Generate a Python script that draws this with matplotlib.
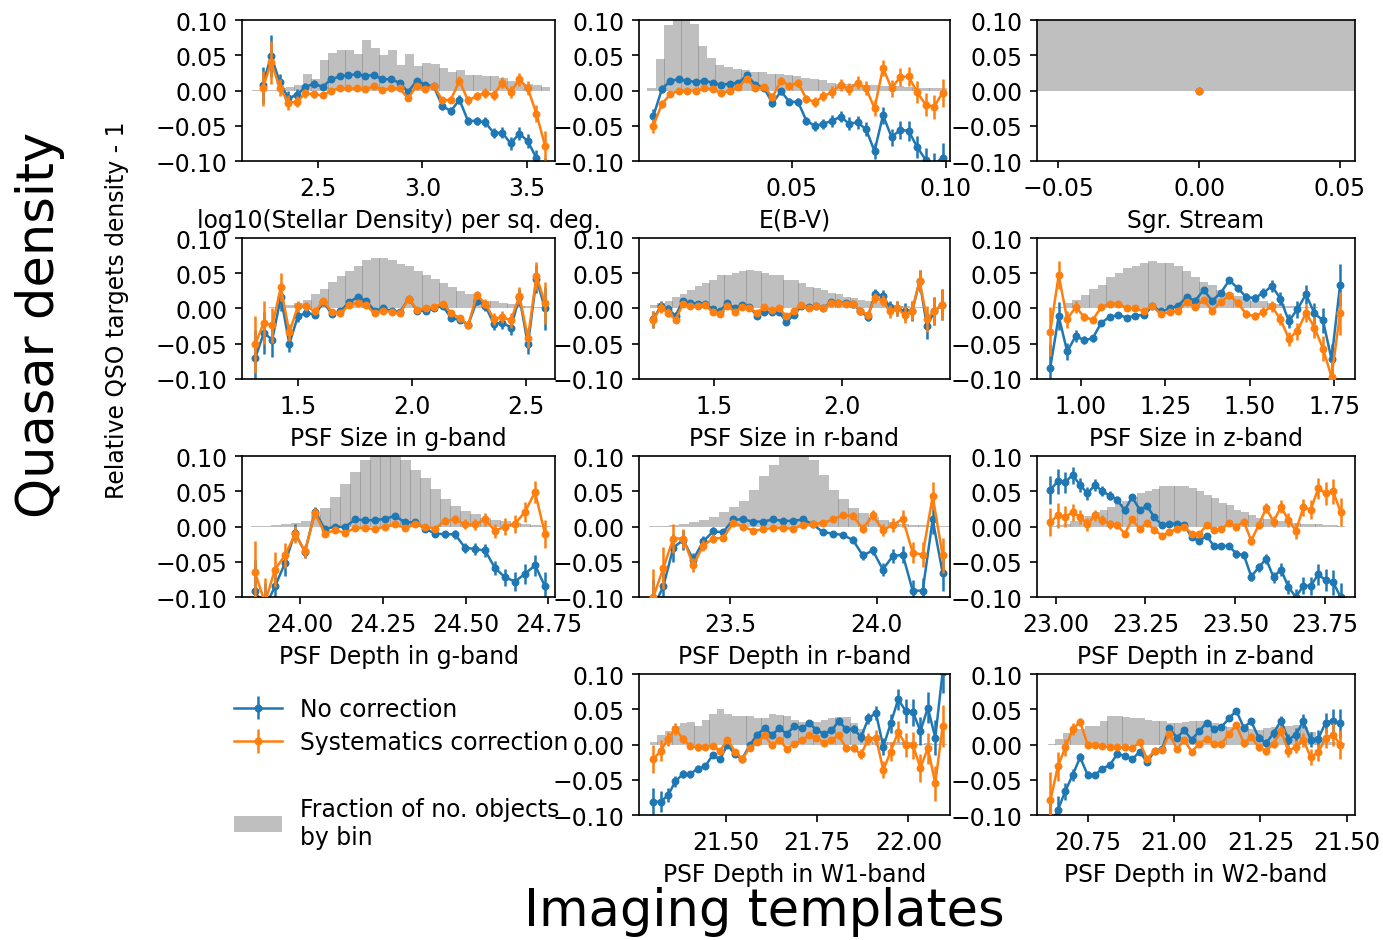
import numpy as np
import matplotlib
matplotlib.use("Agg")
import matplotlib.pyplot as plt
from matplotlib.patches import Patch
from matplotlib.lines import Line2D

# ---- data ---------------------------------------------------------------
# log10(stellar density)
stel_x = np.linspace(2.233, 3.588, 34)
stel_raw = [0.008, 0.049, 0.012, -0.011, -0.006, 0.005, 0.010, 0.005, 0.016, 0.020, 0.022, 0.023,
            0.021, 0.022, 0.016, 0.016, 0.011, -0.002, 0.014, 0.008, 0.006, -0.022, -0.029, -0.013,
            -0.043, -0.043, -0.045, -0.060, -0.060, -0.075, -0.061, -0.072, -0.096, -0.115]
stel_cor = [0.003, 0.040, 0.004, -0.017, -0.016, -0.004, -0.005, -0.007, 0.000, 0.003, 0.003, 0.003,
            0.002, 0.006, 0.001, 0.003, 0.003, -0.011, 0.007, 0.002, 0.007, -0.014, -0.013, 0.014,
            -0.014, -0.008, -0.003, -0.006, 0.011, -0.002, 0.016, 0.003, -0.033, -0.078]
stel_err = [0.025, 0.03, 0.012, 0.01, 0.008, 0.006, 0.005, 0.004, 0.003, 0.003, 0.003, 0.003,
            0.003, 0.003, 0.003, 0.003, 0.003, 0.004, 0.004, 0.004, 0.004, 0.005, 0.005, 0.006,
            0.006, 0.006, 0.007, 0.007, 0.008, 0.009, 0.009, 0.01, 0.012, 0.02]
stel_hist = [0.0005, 0.001, 0.0015, 0.003, 0.005, 0.008, 0.024, 0.016, 0.043, 0.053, 0.058, 0.057,
             0.052, 0.072, 0.061, 0.050, 0.058, 0.036, 0.052, 0.035, 0.039, 0.038, 0.032, 0.026,
             0.029, 0.022, 0.022, 0.020, 0.020, 0.018, 0.014, 0.011, 0.010, 0.008, 0.005]
stel_hist_rng = (2.18, 3.612)

# E(B-V)
ebv_x = np.linspace(0.00518, 0.0989, 35)
ebv_raw = [-0.036, 0.002, 0.014, 0.016, 0.014, 0.012, 0.014, 0.011, 0.008, 0.010, 0.011, 0.022,
           0.008, 0.004, -0.018, -0.001, -0.016, -0.016, -0.043, -0.050, -0.047, -0.043, -0.037,
           -0.047, -0.045, -0.055, -0.086, -0.035, -0.066, -0.056, -0.057, -0.080, -0.098, -0.105,
           -0.095]
ebv_cor = [-0.050, -0.019, -0.005, 0.000, 0.000, 0.000, 0.003, 0.002, -0.004, 0.000, 0.005, 0.017,
           0.003, 0.005, -0.009, 0.014, 0.007, 0.011, -0.012, -0.016, -0.008, -0.002, 0.008, 0.002,
           0.011, 0.003, -0.025, 0.032, 0.003, 0.019, 0.020, -0.002, -0.020, -0.023, -0.003]
ebv_err = [0.01, 0.006, 0.004, 0.003, 0.003, 0.003, 0.003, 0.003, 0.003, 0.003, 0.003, 0.004,
           0.004, 0.004, 0.005, 0.005, 0.005, 0.006, 0.006, 0.007, 0.007, 0.008, 0.008, 0.009,
           0.009, 0.010, 0.011, 0.012, 0.012, 0.013, 0.014, 0.015, 0.016, 0.017, 0.020]
ebv_hist = [0.003, 0.045, 0.093, 0.125, 0.115, 0.095, 0.063, 0.046, 0.036, 0.034, 0.030, 0.029,
            0.027, 0.026, 0.024, 0.023, 0.022, 0.020, 0.018, 0.016, 0.015, 0.011, 0.010, 0.010,
            0.009, 0.008, 0.008, 0.007, 0.006, 0.006, 0.005, 0.004, 0.003, 0.003, 0.003]
ebv_hist_rng = (0.0031, 0.1002)

# Sgr. stream
sgr_x = [0.0]
sgr_raw = [0.0]
sgr_cor = [0.0]
sgr_err = [0.0]
sgr_hist = [0.2]
sgr_hist_rng = (-0.07, 0.07)

# PSF size g
psfg_x = np.linspace(1.314, 2.585, 35)
psfg_raw = [-0.070, -0.035, -0.044, 0.016, -0.050, -0.011, -0.006, -0.009, 0.009, -0.008, -0.004,
            0.009, 0.016, 0.011, -0.003, 0.000, -0.003, -0.005, 0.014, -0.003, -0.003, 0.000, 0.004,
            -0.014, -0.016, -0.023, 0.011, 0.004, -0.022, -0.020, -0.027, 0.016, -0.051, 0.042, 0.000]
psfg_cor = [-0.051, -0.020, -0.024, 0.030, -0.034, 0.003, 0.003, -0.004, 0.010, -0.005, -0.007,
            0.005, 0.008, 0.005, -0.007, -0.003, -0.005, -0.007, 0.014, -0.002, 0.000, 0.002, 0.007,
            -0.006, -0.014, -0.023, 0.019, 0.007, -0.015, -0.012, -0.017, 0.018, -0.042, 0.046, 0.008]
psfg_err = [0.04, 0.03, 0.025, 0.02, 0.012, 0.008, 0.006, 0.005, 0.004, 0.004, 0.003, 0.003,
            0.003, 0.003, 0.003, 0.003, 0.003, 0.003, 0.003, 0.003, 0.003, 0.003, 0.004, 0.004,
            0.005, 0.005, 0.006, 0.007, 0.008, 0.009, 0.01, 0.012, 0.014, 0.02, 0.03]
psfg_hist = [0.0005, 0.001, 0.002, 0.003, 0.005, 0.008, 0.012, 0.020, 0.027, 0.038, 0.046, 0.053,
             0.060, 0.069, 0.071, 0.072, 0.069, 0.063, 0.060, 0.053, 0.047, 0.042, 0.036, 0.031,
             0.025, 0.020, 0.015, 0.011, 0.010, 0.008, 0.006, 0.004, 0.003, 0.002, 0.001]
psfg_hist_rng = (1.298, 2.607)

# PSF size r
psfr_x = np.linspace(1.266, 2.386, 40)
psfr_raw = [-0.015, 0.003, -0.001, -0.010, 0.011, 0.008, 0.007, 0.007, -0.001, -0.004, 0.008,
            0.000, 0.005, 0.002, -0.010, -0.005, -0.005, -0.005, -0.019, -0.009, 0.003, 0.002,
            0.003, 0.001, 0.009, 0.008, 0.008, 0.006, -0.004, -0.012, 0.021, 0.018, 0.002, 0.000,
            -0.004, -0.004, 0.039, -0.025, -0.004, 0.005]
psfr_cor = [-0.016, 0.001, -0.006, -0.016, 0.007, 0.003, 0.003, 0.005, -0.005, -0.008, 0.004,
            -0.005, 0.002, 0.000, -0.006, 0.002, -0.002, 0.000, -0.011, -0.004, 0.005, 0.000,
            0.004, 0.000, 0.008, 0.008, 0.006, 0.007, -0.003, -0.009, 0.015, 0.011, -0.004, 0.000,
            -0.009, -0.003, 0.039, -0.015, -0.003, 0.005]
psfr_err = [0.012, 0.008, 0.006, 0.005, 0.004, 0.004, 0.003, 0.003, 0.003, 0.003, 0.003, 0.003,
            0.003, 0.003, 0.003, 0.003, 0.003, 0.003, 0.003, 0.003, 0.003, 0.003, 0.003, 0.003,
            0.004, 0.004, 0.004, 0.005, 0.005, 0.006, 0.007, 0.008, 0.009, 0.01, 0.012, 0.014,
            0.016, 0.018, 0.02, 0.022]
psfr_hist = [0.005, 0.008, 0.011, 0.017, 0.021, 0.026, 0.032, 0.036, 0.041, 0.047, 0.048, 0.050,
             0.053, 0.054, 0.053, 0.050, 0.048, 0.048, 0.040, 0.040, 0.036, 0.031, 0.029, 0.026,
             0.022, 0.020, 0.016, 0.015, 0.012, 0.010, 0.009, 0.007, 0.005, 0.004, 0.003, 0.002,
             0.002, 0.001, 0.0005, 0.0005]
psfr_hist_rng = (1.253, 2.405)

# PSF size z
psfz_x = np.linspace(0.910, 1.768, 35)
psfz_raw = [-0.085, -0.011, -0.061, -0.039, -0.045, -0.042, -0.020, -0.012, -0.009, -0.013, -0.010,
            -0.009, 0.003, -0.004, 0.000, 0.004, 0.016, 0.011, 0.026, 0.011, 0.022, 0.040, 0.029,
            0.016, 0.015, 0.022, 0.032, 0.014, -0.018, -0.001, 0.020, -0.007, -0.017, -0.072, 0.033]
psfz_cor = [-0.033, 0.047, -0.015, 0.002, -0.012, -0.016, 0.002, 0.007, 0.007, 0.000, 0.000,
            -0.003, 0.003, -0.008, -0.005, -0.003, 0.009, 0.002, 0.012, -0.003, 0.009, 0.019, 0.008,
            -0.008, -0.011, -0.005, 0.003, -0.015, -0.043, -0.032, -0.006, -0.027, -0.057, -0.097,
            -0.007]
psfz_err = [0.035, 0.02, 0.012, 0.008, 0.006, 0.005, 0.004, 0.004, 0.003, 0.003, 0.003, 0.003,
            0.003, 0.003, 0.003, 0.003, 0.003, 0.003, 0.004, 0.004, 0.004, 0.005, 0.005, 0.006,
            0.006, 0.007, 0.008, 0.009, 0.01, 0.012, 0.013, 0.015, 0.018, 0.022, 0.03]
psfz_hist = [0.0005, 0.002, 0.008, 0.012, 0.019, 0.027, 0.034, 0.045, 0.050, 0.058, 0.061, 0.065,
             0.067, 0.065, 0.064, 0.060, 0.053, 0.045, 0.038, 0.033, 0.026, 0.022, 0.018, 0.014,
             0.011, 0.010, 0.008, 0.006, 0.004, 0.003, 0.002, 0.0015, 0.001, 0.0005, 0.0003]
psfz_hist_rng = (0.900, 1.778)

# PSF depth g
depg_x = np.linspace(23.864, 24.740, 30)
depg_raw = [-0.092, -0.115, -0.085, -0.052, -0.009, -0.036, 0.021, -0.004, 0.000, -0.001, 0.010,
            0.009, 0.009, 0.011, 0.015, 0.006, 0.006, -0.003, -0.010, -0.011, -0.011, -0.030,
            -0.032, -0.034, -0.059, -0.072, -0.078, -0.067, -0.055, -0.085]
depg_cor = [-0.065, -0.108, -0.061, -0.041, -0.011, -0.035, 0.019, -0.010, -0.005, -0.009, -0.002,
            -0.002, -0.004, 0.000, 0.003, -0.002, 0.003, 0.000, -0.003, 0.008, 0.010, 0.003, 0.003,
            0.010, -0.006, 0.000, 0.004, 0.021, 0.049, -0.011]
depg_err = [0.045, 0.035, 0.025, 0.018, 0.012, 0.009, 0.007, 0.005, 0.004, 0.004, 0.003, 0.003,
            0.003, 0.003, 0.003, 0.003, 0.003, 0.004, 0.004, 0.005, 0.006, 0.007, 0.008, 0.009,
            0.01, 0.012, 0.013, 0.014, 0.015, 0.02]
depg_hist = [0.0003, 0.001, 0.002, 0.003, 0.005, 0.008, 0.016, 0.026, 0.042, 0.060, 0.077, 0.094,
             0.101, 0.104, 0.102, 0.094, 0.080, 0.069, 0.053, 0.039, 0.029, 0.022, 0.018, 0.012,
             0.009, 0.008, 0.005, 0.003, 0.002, 0.001]
depg_hist_rng = (23.851, 24.755)

# PSF depth r
depr_x = np.linspace(23.239, 24.225, 30)
depr_raw = [-0.115, -0.085, -0.030, -0.019, -0.047, -0.021, -0.007, -0.008, 0.010, 0.010, 0.007,
            0.007, 0.010, 0.008, 0.008, 0.010, 0.003, -0.008, -0.010, -0.012, -0.019, -0.041,
            -0.034, -0.061, -0.042, -0.040, -0.091, -0.091, 0.010, -0.066]
depr_cor = [-0.100, -0.059, -0.017, -0.017, -0.055, -0.027, -0.017, -0.016, 0.005, 0.000, -0.006,
            -0.004, -0.002, -0.002, -0.003, 0.002, 0.004, 0.005, 0.010, 0.016, 0.015, -0.003,
            0.016, -0.005, 0.002, 0.011, -0.037, -0.040, 0.043, -0.041]
depr_err = [0.04, 0.03, 0.02, 0.014, 0.01, 0.008, 0.006, 0.005, 0.004, 0.003, 0.003, 0.003,
            0.003, 0.003, 0.003, 0.003, 0.003, 0.003, 0.004, 0.004, 0.005, 0.006, 0.007, 0.009,
            0.01, 0.012, 0.015, 0.018, 0.02, 0.025]
depr_hist = [0.0003, 0.001, 0.002, 0.003, 0.006, 0.009, 0.014, 0.020, 0.028, 0.036, 0.052, 0.071,
             0.087, 0.100, 0.102, 0.101, 0.095, 0.073, 0.052, 0.039, 0.026, 0.019, 0.014, 0.009,
             0.007, 0.004, 0.002, 0.0015, 0.001, 0.0005]
depr_hist_rng = (23.224, 24.244)

# PSF depth z
depz_x = np.linspace(22.985, 23.793, 40)
depz_raw = [0.052, 0.064, 0.063, 0.073, 0.059, 0.047, 0.059, 0.050, 0.044, 0.038, 0.023, 0.042,
            0.024, 0.029, 0.013, 0.002, 0.004, 0.004, 0.002, -0.015, -0.021, -0.013, -0.028, -0.028,
            -0.027, -0.039, -0.040, -0.071, -0.058, -0.046, -0.072, -0.061, -0.086, -0.100, -0.084,
            -0.084, -0.068, -0.076, -0.079, -0.100]
depz_cor = [0.006, 0.016, 0.014, 0.020, 0.014, 0.003, 0.016, 0.009, 0.003, 0.002, -0.010, 0.010,
            -0.003, 0.005, -0.005, -0.013, -0.008, -0.003, 0.000, -0.010, -0.011, 0.002, -0.005,
            -0.004, 0.005, 0.000, 0.007, -0.020, 0.002, 0.026, 0.007, 0.028, 0.009, -0.006, 0.027,
            0.024, 0.054, 0.047, 0.050, 0.021]
depz_err = [0.02, 0.018, 0.015, 0.012, 0.01, 0.009, 0.008, 0.007, 0.006, 0.005, 0.005, 0.004,
            0.004, 0.004, 0.004, 0.003, 0.003, 0.003, 0.003, 0.003, 0.003, 0.004, 0.004, 0.004,
            0.004, 0.005, 0.005, 0.006, 0.006, 0.007, 0.008, 0.009, 0.01, 0.011, 0.012, 0.013,
            0.015, 0.016, 0.018, 0.02]
depz_hist = [0.0005, 0.002, 0.004, 0.008, 0.011, 0.015, 0.020, 0.024, 0.028, 0.032, 0.036, 0.042,
             0.047, 0.051, 0.053, 0.058, 0.058, 0.058, 0.057, 0.054, 0.050, 0.045, 0.040, 0.034,
             0.030, 0.024, 0.021, 0.016, 0.012, 0.010, 0.009, 0.008, 0.007, 0.005, 0.004, 0.004,
             0.003, 0.002, 0.0015, 0.001]
depz_hist_rng = (22.979, 23.805)

# PSF depth W1
depw1_x = np.linspace(21.302, 22.094, 40)
depw1_raw = [-0.081, -0.081, -0.072, -0.052, -0.042, -0.042, -0.034, -0.031, -0.015, -0.021, 0.000,
             -0.014, -0.020, -0.001, 0.014, 0.023, 0.014, 0.023, 0.015, 0.026, 0.023, 0.030, 0.021,
             0.015, 0.020, 0.033, 0.022, 0.022, 0.011, 0.037, 0.045, -0.003, 0.030, 0.064, 0.048,
             0.046, 0.019, 0.052, 0.010, 0.103]
depw1_cor = [-0.021, -0.009, 0.008, 0.022, 0.008, -0.002, -0.004, -0.003, -0.002, -0.009, 0.007,
             -0.010, -0.020, -0.005, 0.003, 0.013, -0.001, 0.007, -0.006, 0.001, 0.006, 0.013, 0.010,
             0.002, 0.007, 0.013, -0.005, -0.005, -0.014, 0.008, 0.010, -0.036, -0.010, 0.018, 0.000,
             -0.001, -0.033, -0.005, -0.055, 0.026]
depw1_err = [0.02, 0.015, 0.01, 0.008, 0.006, 0.005, 0.005, 0.004, 0.004, 0.004, 0.004, 0.004,
             0.004, 0.004, 0.004, 0.004, 0.004, 0.004, 0.004, 0.004, 0.004, 0.004, 0.004, 0.004,
             0.004, 0.005, 0.005, 0.006, 0.007, 0.008, 0.01, 0.012, 0.013, 0.015, 0.017, 0.019,
             0.02, 0.022, 0.025, 0.03]
depw1_hist = [0.004, 0.013, 0.019, 0.026, 0.030, 0.032, 0.026, 0.035, 0.044, 0.050, 0.044, 0.041,
              0.040, 0.040, 0.038, 0.038, 0.044, 0.042, 0.040, 0.035, 0.032, 0.033, 0.032, 0.035,
              0.037, 0.039, 0.039, 0.030, 0.022, 0.008, 0.004, 0.003, 0.003, 0.003, 0.003, 0.003,
              0.001, 0.002, 0.001, 0.0005]
depw1_hist_rng = (21.293, 22.105)

# PSF depth W2
depw2_x = np.linspace(20.641, 21.482, 40)
depw2_raw = [-0.115, -0.093, -0.066, -0.043, -0.018, -0.043, -0.043, -0.034, -0.029, -0.013, -0.016,
             -0.021, -0.010, -0.025, -0.009, -0.006, 0.023, 0.010, 0.020, 0.007, 0.019, 0.031, 0.022,
             0.025, 0.037, 0.048, 0.024, 0.033, 0.010, 0.002, 0.016, 0.034, 0.007, 0.014, 0.033,
             0.007, 0.008, 0.031, 0.034, 0.030]
depw2_cor = [-0.079, -0.031, -0.004, 0.022, 0.032, 0.000, 0.000, -0.002, -0.004, -0.004, -0.004,
             -0.005, 0.003, -0.020, -0.009, -0.008, 0.015, -0.006, 0.006, -0.010, 0.001, 0.008, 0.001,
             0.001, 0.015, 0.028, 0.002, 0.011, -0.004, -0.009, 0.001, 0.019, -0.009, -0.003, 0.007,
             -0.018, -0.011, 0.009, 0.014, 0.000]
depw2_err = [0.04, 0.02, 0.012, 0.008, 0.006, 0.005, 0.004, 0.004, 0.004, 0.004, 0.004, 0.004,
             0.004, 0.004, 0.004, 0.004, 0.004, 0.004, 0.004, 0.004, 0.004, 0.004, 0.004, 0.004,
             0.004, 0.004, 0.005, 0.005, 0.005, 0.006, 0.006, 0.007, 0.008, 0.009, 0.01, 0.011,
             0.012, 0.014, 0.016, 0.02]
depw2_hist = [0.001, 0.008, 0.017, 0.022, 0.022, 0.026, 0.026, 0.033, 0.040, 0.040, 0.039, 0.038,
              0.037, 0.035, 0.034, 0.033, 0.031, 0.031, 0.032, 0.033, 0.033, 0.033, 0.030, 0.027,
              0.025, 0.026, 0.026, 0.022, 0.021, 0.023, 0.025, 0.027, 0.026, 0.028, 0.025, 0.018,
              0.010, 0.007, 0.004, 0.002]
depw2_hist_rng = (20.634, 21.495)

panels = [
    # (x, raw, cor, err, hist, hist range, xlim, xticks, xlabel)
    (stel_x, stel_raw, stel_cor, stel_err, stel_hist, stel_hist_rng, (2.134, 3.636), [2.5, 3.0, 3.5],
     "log10(Stellar Density) per sq. deg."),
    (ebv_x, ebv_raw, ebv_cor, ebv_err, ebv_hist, ebv_hist_rng, (0.0005, 0.1013), [0.05, 0.10], "E(B-V)"),
    (sgr_x, sgr_raw, sgr_cor, sgr_err, sgr_hist, sgr_hist_rng, (-0.0575, 0.0553), [-0.05, 0.0, 0.05],
     "Sgr. Stream"),
    (psfg_x, psfg_raw, psfg_cor, psfg_err, psfg_hist, psfg_hist_rng, (1.256, 2.629), [1.5, 2.0, 2.5],
     "PSF Size in g-band"),
    (psfr_x, psfr_raw, psfr_cor, psfr_err, psfr_hist, psfr_hist_rng, (1.210, 2.418), [1.5, 2.0],
     "PSF Size in r-band"),
    (psfz_x, psfz_raw, psfz_cor, psfz_err, psfz_hist, psfz_hist_rng, (0.871, 1.812),
     [1.00, 1.25, 1.50, 1.75], "PSF Size in z-band"),
    (depg_x, depg_raw, depg_cor, depg_err, depg_hist, depg_hist_rng, (23.825, 24.770),
     [24.00, 24.25, 24.50, 24.75], "PSF Depth in g-band"),
    (depr_x, depr_raw, depr_cor, depr_err, depr_hist, depr_hist_rng, (23.19, 24.25), [23.5, 24.0],
     "PSF Depth in r-band"),
    (depz_x, depz_raw, depz_cor, depz_err, depz_hist, depz_hist_rng, (22.948, 23.833),
     [23.00, 23.25, 23.50, 23.75], "PSF Depth in z-band"),
    (depw1_x, depw1_raw, depw1_cor, depw1_err, depw1_hist, depw1_hist_rng, (21.263, 22.114),
     [21.50, 21.75, 22.00], "PSF Depth in W1-band"),
    (depw2_x, depw2_raw, depw2_cor, depw2_err, depw2_hist, depw2_hist_rng, (20.602, 21.524),
     [20.75, 21.00, 21.25, 21.50], "PSF Depth in W2-band"),
]
# grid slot (row, col) of each panel; (3, 0) holds the legend
slots = [(0, 0), (0, 1), (0, 2), (1, 0), (1, 1), (1, 2), (2, 0), (2, 1), (2, 2), (3, 1), (3, 2)]

plt.rcParams['font.size'] = 11.3

fig = plt.figure(figsize=(9.22, 6.2733), dpi=150)

col_left = [0.175, 0.462, 0.7498]
col_width = [0.2263, 0.2249, 0.2299]
row_bottom = [0.8278, 0.5962, 0.3645, 0.1328]
row_height = 0.1498

handles = None
for (row, col), p in zip(slots, panels):
    x, raw, cor, err, hist, hrng, xlim, xticks, xlabel = p
    ax = fig.add_axes([col_left[col], row_bottom[row], col_width[col], row_height])
    edges = np.linspace(hrng[0], hrng[1], len(hist) + 1)
    w = edges[1] - edges[0]
    ax.bar(edges[:-1], hist, width=w * 1.05, align='edge', color='grey', alpha=0.5,
           linewidth=0, zorder=1)
    e1 = ax.errorbar(x, raw, yerr=err, fmt='-o', ms=2.8, lw=1.2, elinewidth=1.2,
                     color='tab:blue', label='No correction', zorder=2)
    e2 = ax.errorbar(x, cor, yerr=err, fmt='-o', ms=2.8, lw=1.2, elinewidth=1.2,
                     color='tab:orange', label='Systematics correction', zorder=3)
    if handles is None:
        handles = [e1, e2]
    ax.set_xlim(xlim)
    ax.set_ylim(-0.1, 0.1)
    ax.set_xticks(xticks)
    ax.set_yticks([-0.10, -0.05, 0.0, 0.05, 0.10])
    ax.set_xlabel(xlabel)

blank = Line2D([], [], color='none', label=' ')
patch = Patch(facecolor='grey', alpha=0.5, label='Fraction of no. objects\nby bin')
fig.legend(handles + [blank, patch], [h.get_label() for h in handles + [blank, patch]],
           loc='upper left', bbox_to_anchor=(0.1627, 0.2685), frameon=False, borderaxespad=0,
           labelspacing=0.4)

fig.text(0.0846, 0.6706, 'Relative QSO targets density - 1', rotation=90, ha='center',
         va='center', fontsize=11.3)
fig.text(0.029, 0.655, 'Quasar density', rotation=90, ha='center', va='center', fontsize=24.5)
fig.text(0.553, 0.031, 'Imaging templates', ha='center', va='center', fontsize=24.5)

plt.savefig('out.png', dpi=150)
